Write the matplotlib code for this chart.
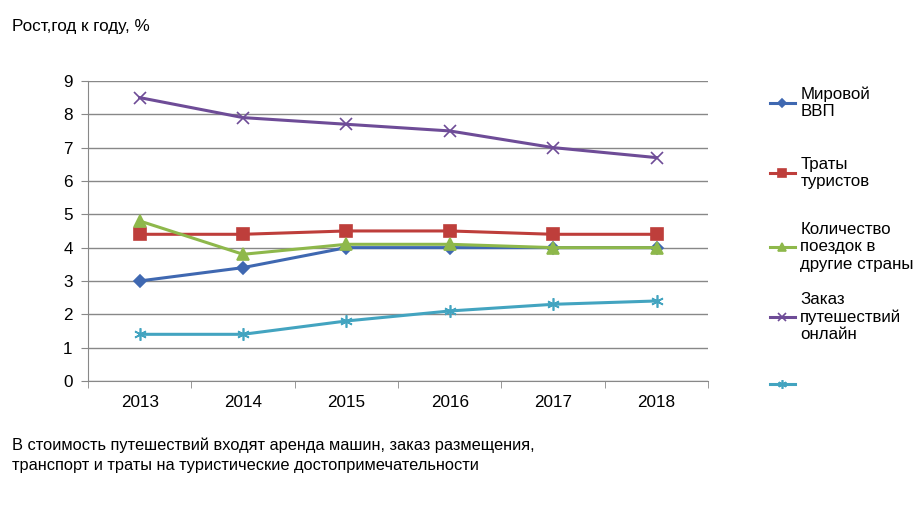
import matplotlib
matplotlib.use("Agg")
import matplotlib.pyplot as plt

plt.rcParams['font.family'] = ['Liberation Sans', 'DejaVu Sans']

years = ["2013", "2014", "2015", "2016", "2017", "2018"]
gdp = [3.0, 3.4, 4.0, 4.0, 4.0, 4.0]
spending = [4.4, 4.4, 4.5, 4.5, 4.4, 4.4]
trips = [4.8, 3.8, 4.1, 4.1, 4.0, 4.0]
online = [8.5, 7.9, 7.7, 7.5, 7.0, 6.7]
other = [1.4, 1.4, 1.8, 2.1, 2.3, 2.4]

labels = ["Мировой\nВВП", "Траты\nтуристов", "Количество\nпоездок в\nдругие страны",
          "Заказ\nпутешествий\nонлайн", ""]

series = [
    (gdp, "#3F68B1", "D", 6),
    (spending, "#BE3E3B", "s", 8),
    (trips, "#8EB84B", "^", 8),
    (online, "#6E4C97", "x", 8),
    (other, "#43A4C0", (6, 2, 0), 9),
]

fig = plt.figure(figsize=(9.23, 5.09), dpi=100)
ax = fig.add_axes([0.0953, 0.2515, 0.672, 0.5895])

x = list(range(len(years)))
handles = []
for vals, col, mk, ms in series:
    ln, = ax.plot(x, vals, color=col, lw=2.2, marker=mk, markersize=ms,
                  markeredgecolor=col, markerfacecolor=col, markeredgewidth=1.2)
    handles.append(ln)

ax.set_xlim(-0.5, 5.5)
ax.set_ylim(0, 9)
ax.set_yticks(range(0, 10))
ax.set_xticks(x)
ax.set_xticklabels(years)
ax.set_xticks([i - 0.5 for i in range(7)], minor=True)
ax.tick_params(axis='x', which='major', length=0, pad=10, labelsize=12.3)
ax.tick_params(axis='x', which='minor', length=5, color='#888888', direction='out')
ax.tick_params(axis='y', length=5, color='#888888', labelsize=12.3, pad=6)
ax.grid(axis='y', color='#888888', lw=1)
ax.set_axisbelow(True)
for s in ['top', 'right']:
    ax.spines[s].set_visible(False)
for s in ['left', 'bottom']:
    ax.spines[s].set_color('#888888')

# legend entries, one per series
ys = [0.798, 0.660, 0.515, 0.377, 0.242]
for h, lab, yy in zip(handles, labels, ys):
    fig.legend([h], [lab], loc='center left', bbox_to_anchor=(0.834, yy),
               frameon=False, fontsize=12.2, handlelength=1.5, handletextpad=0.3,
               borderpad=0, borderaxespad=0, markerscale=0.7)

fig.text(0.013, 0.947, "Рост,год к году, %", fontsize=12.3, va='center')
fig.text(0.013, 0.106,
         "В стоимость путешествий входят аренда машин, заказ размещения,\n"
         "транспорт и траты на туристические достопримечательности",
         fontsize=11.8, va='center', linespacing=1.45)

fig.savefig("out.png", dpi=100)
